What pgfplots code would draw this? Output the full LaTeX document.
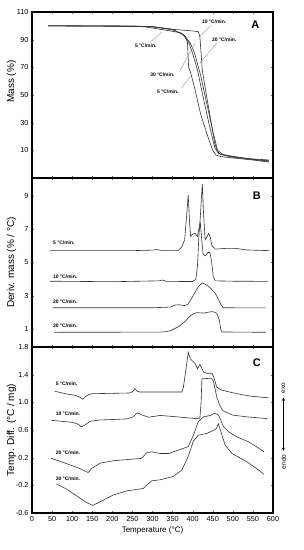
\documentclass[border=0pt]{standalone}
\usepackage{fontspec}
\setmainfont{Liberation Sans}
\usepackage{pgfplots}
\pgfplotsset{compat=1.18}
\tikzset{
  crv/.style={line width=0.6pt, black!80},
  ldr/.style={line width=0.35pt, black!45},
  lab/.style={font=\bfseries\fontsize{5}{6}\selectfont, anchor=west, inner sep=0pt},
  pan/.style={font=\bfseries\fontsize{11}{12}\selectfont, anchor=center, inner sep=0pt},
}
\begin{document}
\begin{tikzpicture}
\pgfplotsset{
  every axis/.append style={
    scale only axis, width=241pt, xmin=0, xmax=600,
    axis line style={line width=1.1pt},
    tick align=inside,
    major tick length=2pt,
    tick style={black!60, line width=0.3pt},
    xtick={0,50,...,600},
    label style={font=\fontsize{8}{9}\selectfont},
    tick label style={font=\fontsize{7.3}{8}\selectfont},
    /pgf/number format/assume math mode=true,
    every axis y label/.style={at={(axis description cs:-0.085,0.5)}, rotate=90, anchor=center},
    clip=false,
  },
}
% ---------------- Panel A ----------------
\begin{axis}[at={(0,335pt)}, anchor=south west, height=166pt,
  ymin=-10, ymax=110, ytick={10,30,...,110}, xticklabels={},
  ylabel={Mass (\%)},
  every axis y label/.style={at={(axis description cs:-0.085,0.58)}, rotate=90, anchor=center}]
\addplot[crv, no marks] coordinates {(40,100)(200,100)(280,99.3)(330,97)(370,95)(383,92)(387,88)(390,70)(395,66)(405,55)(420,36)(440,18)(450,10)(458,6.5)(470,5.5)(500,4.5)(550,3)(590,1.5)};
\addplot[crv, no marks] coordinates {(40,100)(250,100)(300,99.2)(350,97.5)(400,96.3)(414,95.8)(418,92)(421,80)(424,68)(430,57)(445,32)(455,15)(462,9)(470,7)(500,5)(550,3.5)(590,2.5)};
\addplot[crv, no marks] coordinates {(40,100)(300,99.5)(350,97.5)(380,93)(395,87)(405,80)(420,64)(435,44)(450,24)(462,10)(475,7)(520,4.5)(590,2)};
\addplot[crv, no marks] coordinates {(40,100)(300,99.5)(350,97)(375,94)(390,88)(400,80)(412,68)(425,50)(440,30)(455,12)(465,7.5)(490,6)(540,4)(590,3)};
\addplot[ldr, no marks] coordinates {(445,100.1)(418,92.3)};
\addplot[ldr, no marks] coordinates {(460,87.5)(418,73)};
\addplot[ldr, no marks] coordinates {(368,67.6)(406,87.5)};
\addplot[ldr, no marks] coordinates {(373,55)(394,63.5)};
\addplot[ldr, no marks] coordinates {(294,88.2)(324,95.4)};
\node[lab] at (axis cs:423,102.6) {10 °C/min.};
\node[lab] at (axis cs:448,89.9) {20 °C/min.};
\node[lab] at (axis cs:294,64.7) {30 °C/min.};
\node[lab] at (axis cs:311,52) {5 °C/min.};
\node[lab] at (axis cs:256,85.8) {5 °C/min.};
\node[pan] at (axis cs:556,100.6) {A};
\end{axis}
% ---------------- Panel B ----------------
\begin{axis}[at={(0,166pt)}, anchor=south west, height=169pt,
  ymin=-0.06, ymax=10.06, ytick={1,3,5,7,9}, xticklabels={},
  ylabel={Deriv. mass (\% / °C)}]
\addplot[crv, no marks] coordinates {(44,5.71)(250,5.71)(300,5.74)(310,5.78)(320,5.73)(365,5.73)(373,5.95)(380,6.35)(384,7.5)(389,9.05)(392,7.5)(395,6.55)(400,6.7)(406,6.75)(412,6.55)(418,7.35)(421,8.5)(424,9.7)(427,8.0)(431,6.35)(436,6.55)(440,6.75)(444,6.5)(448,6.0)(456,5.8)(485,5.85)(505,5.85)(535,5.75)(591,5.71)};
\addplot[crv, no marks] coordinates {(44,3.88)(200,3.85)(315,3.9)(325,3.95)(335,3.87)(400,3.86)(408,4.0)(412,4.8)(416,6.8)(419,7.4)(422,6.5)(426,5.5)(432,5.4)(438,5.6)(443,5.6)(447,5.1)(451,4.2)(456,3.9)(500,3.88)(588,3.87)};
\addplot[crv, no marks] coordinates {(52,2.29)(300,2.29)(345,2.33)(355,2.45)(365,2.47)(380,2.42)(388,2.5)(395,2.75)(402,3.05)(414,3.55)(424,3.78)(435,3.65)(445,3.45)(455,3.2)(462,2.9)(470,2.5)(476,2.29)(582,2.28)};
\addplot[crv, no marks] coordinates {(56,0.82)(320,0.83)(335,0.86)(345,0.92)(365,1.16)(381,1.46)(390,1.7)(398,1.88)(410,2.0)(427,1.97)(440,2.03)(450,2.06)(460,1.96)(466,1.6)(470,1.0)(473,0.84)(582,0.82)};
\node[lab] at (axis cs:52,6.21) {5 °C/min.};
\node[lab] at (axis cs:52,4.15) {10 °C/min.};
\node[lab] at (axis cs:52,2.65) {20 °C/min.};
\node[lab] at (axis cs:52,1.22) {30 °C/min.};
\node[pan] at (axis cs:560,9.0) {B};
\end{axis}
% ---------------- Panel C ----------------
\begin{axis}[at={(0,0pt)}, anchor=south west, height=166pt,
  ymin=-0.6, ymax=1.8, ytick={-0.6,-0.2,...,1.81},
  yticklabel style={/pgf/number format/.cd, fixed, fixed zerofill, precision=1},
  xlabel={Temperature (°C)}, ylabel={Temp. Diff. (°C / mg)},
  xlabel style={yshift=2pt}]
\addplot[crv, no marks] coordinates {(57,1.16)(83,1.125)(109,1.10)(120,1.07)(127,1.045)(133,1.08)(140,1.11)(150,1.125)(244,1.135)(252,1.16)(256,1.20)(262,1.16)(268,1.15)(300,1.15)(340,1.15)(373,1.15)(377,1.22)(385,1.55)(389,1.725)(394,1.63)(406,1.56)(412,1.485)(418,1.55)(427,1.44)(435,1.42)(448,1.42)(452,1.375)(460,1.22)(473,1.175)(510,1.125)(543,1.09)(589,1.065)};
\addplot[crv, no marks] coordinates {(48,0.74)(75,0.725)(100,0.71)(115,0.685)(123,0.645)(131,0.67)(144,0.725)(169,0.745)(236,0.76)(252,0.79)(262,0.85)(273,0.82)(290,0.785)(319,0.81)(352,0.795)(408,0.765)(418,0.77)(421,1.0)(423,1.34)(435,1.345)(448,1.34)(452,1.30)(460,1.075)(468,0.95)(475,0.88)(500,0.815)(535,0.79)(585,0.765)};
\addplot[crv, no marks] coordinates {(48,0.19)(83,0.12)(116,0.05)(140,-0.015)(149,0.045)(169,0.12)(202,0.155)(252,0.18)(273,0.19)(285,0.27)(298,0.285)(319,0.26)(340,0.26)(360,0.30)(375,0.33)(389,0.36)(402,0.525)(414,0.72)(427,0.79)(444,0.81)(456,0.845)(465,0.81)(477,0.645)(489,0.575)(510,0.50)(539,0.43)(560,0.355)(577,0.285)};
\addplot[crv, no marks] coordinates {(61,-0.18)(83,-0.245)(108,-0.34)(133,-0.44)(151,-0.49)(169,-0.44)(202,-0.34)(236,-0.28)(277,-0.245)(285,-0.20)(298,-0.135)(319,-0.12)(352,-0.07)(373,0.02)(389,0.22)(402,0.44)(414,0.525)(435,0.55)(452,0.595)(459,0.62)(464,0.69)(473,0.525)(481,0.38)(498,0.26)(535,0.14)(560,0.04)(577,-0.04)};
\node[lab] at (axis cs:59,1.27) {5 °C/min.};
\node[lab] at (axis cs:59,0.84) {10 °C/min.};
\node[lab] at (axis cs:59,0.27) {20 °C/min.};
\node[lab] at (axis cs:59,-0.10) {30 °C/min.};
\node[pan] at (axis cs:560,1.58) {C};
\node[rotate=90, anchor=center, inner sep=0pt, font=\fontsize{6.5}{7}\selectfont] at (axis cs:626,1.21) {exo};
\node[rotate=90, anchor=center, inner sep=0pt, font=\fontsize{6.5}{7}\selectfont] at (axis cs:626,0.14) {endo};
\draw[<->, >=stealth, line width=0.5pt] (axis cs:626,0.30) -- (axis cs:626,1.07);
\end{axis}
\pgfresetboundingbox
\path[use as bounding box] (-32pt,-37pt) rectangle (272pt,513pt);
\end{tikzpicture}
\end{document}
